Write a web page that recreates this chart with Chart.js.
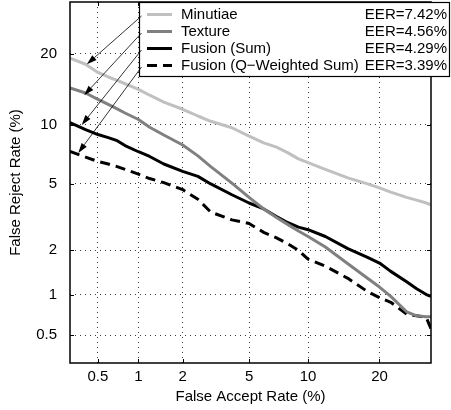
<!DOCTYPE html>
<html><head><meta charset="utf-8">
<script src="https://cdn.jsdelivr.net/npm/chart.js@4/dist/chart.umd.min.js"></script>
<style>html,body{margin:0;padding:0;background:#fff}canvas{display:block}</style>
</head><body>
<canvas id="c" width="451" height="410"></canvas>
<script>
// ---- data (percent) ----
const far       = [0.3,0.4,0.5,0.6,0.7,0.8,1,1.2,1.5,2,2.5,3,4,5,6,7,8,9,10,12,15,18,20,22,25,27,29,30];
const minutiae  = [19.2,18.2,16.9,16.2,15.7,15.2,14.4,13.6,12.7,11.8,11.0,10.4,9.7,8.85,8.2,7.8,7.3,6.8,6.5,6.0,5.4,5.0,4.75,4.5,4.2,4.05,3.9,3.8];
const texture   = [14.6,13.9,13.05,12.4,11.85,11.35,10.6,9.75,8.95,8.0,7.05,6.2,5.05,4.2,3.6,3.2,2.9,2.65,2.45,2.1,1.63,1.3,1.13,0.97,0.75,0.7,0.69,0.69];
const fusionSum = [10.25,9.5,9.0,8.7,8.4,7.95,7.4,7.0,6.4,5.85,5.5,5.0,4.35,3.9,3.6,3.25,2.98,2.8,2.7,2.45,2.05,1.8,1.65,1.45,1.23,1.1,1.0,0.97];
const fusionQ   = [7.42,6.95,6.6,6.4,6.2,6.0,5.65,5.35,5.08,4.65,4.1,3.45,3.1,2.95,2.6,2.4,2.2,2.0,1.75,1.57,1.3,1.05,0.95,0.88,0.72,0.7,0.68,0.56];
const tickValues = [0.5,1,2,5,10,20];
const tickLabels = ['0.5','1','2','5','10','20'];
const axisMin = 0.3, axisMax = 30;
const seriesNames = ['Minutiae','Texture','Fusion (Sum)','Fusion (Q\u2212Weighted Sum)'];
const eerLabels = ['EER=7.42%','EER=4.56%','EER=4.29%','EER=3.39%'];
const arrowTipFAR = [0.41,0.39,0.373,0.35];
const arrowTipFRR = [18.2,13.6,10.0,7.3];
const xTitle = 'False Accept Rate (%)';
const yTitle = 'False Reject Rate (%)';

// ---- normal deviate (probit) transform for DET axes ----
function probit(p){
 const a=[-3.969683028665376e+01,2.209460984245205e+02,-2.759285104469687e+02,1.383577518672690e+02,-3.066479806614716e+01,2.506628277459239e+00];
 const b=[-5.447609879822406e+01,1.615858368580409e+02,-1.556989798598866e+02,6.680131188771972e+01,-1.328068155288572e+01];
 const c=[-7.784894002430293e-03,-3.223964580411365e-01,-2.400758277161838e+00,-2.549732539343734e+00,4.374664141464968e+00,2.938163982698783e+00];
 const d=[7.784695709041462e-03,3.224671290700398e-01,2.445134137142996e+00,3.754408661907416e+00];
 const pl=0.02425, ph=1-pl; let q,r;
 if(p<pl){q=Math.sqrt(-2*Math.log(p));return (((((c[0]*q+c[1])*q+c[2])*q+c[3])*q+c[4])*q+c[5])/((((d[0]*q+d[1])*q+d[2])*q+d[3])*q+1);}
 if(p<=ph){q=p-0.5;r=q*q;return (((((a[0]*r+a[1])*r+a[2])*r+a[3])*r+a[4])*r+a[5])*q/(((((b[0]*r+b[1])*r+b[2])*r+b[3])*r+b[4])*r+1);}
 q=Math.sqrt(-2*Math.log(1-p));return -(((((c[0]*q+c[1])*q+c[2])*q+c[3])*q+c[4])*q+c[5])/((((d[0]*q+d[1])*q+d[2])*q+d[3])*q+1);
}
const nd = v => probit(v/100);
const FONT = "'Liberation Sans', Arial, Helvetica, sans-serif";
const FS = 15;

const seriesValues = [minutiae, texture, fusionSum, fusionQ];
const seriesColors = ['#c0c0c0','#808080','#000000','#000000'];
const seriesDash = [[],[],[],[10,6]];

const datasets = seriesValues.map((vals,i)=>({
  label: seriesNames[i],
  data: far.map((f,j)=>({x: nd(f), y: nd(vals[j])})),
  borderColor: seriesColors[i],
  borderWidth: 3,
  borderDash: seriesDash[i],
  borderJoinStyle: 'round',
  showLine: true,
  pointRadius: 0,
  tension: 0,
  fill: false
}));

function axisOpts(isX){
  return {
    type: 'linear',
    min: nd(axisMin), max: nd(axisMax),
    afterBuildTicks: s => { s.ticks = tickValues.map(v => ({value: nd(v)})); },
    ticks: {
      callback: (v,i) => tickLabels[i],
      font: {family: FONT, size: FS}, color: '#000',
      padding: isX ? 5 : 13, autoSkip: false, maxRotation: 0
    },
    grid: {color: '#3a3a3a', lineWidth: 1, drawTicks: false},
    border: {display: false, dash: [1,4]},
    title: {display: true, text: isX ? xTitle : yTitle, color: '#000',
            font: {family: FONT, size: FS},
            padding: isX ? {top:0, bottom:4} : {top:7, bottom:0}},
    afterFit: s => {
      if (isX) { s.height = 47; s.paddingLeft = 0; s.paddingRight = 0; }
      else { s.width = 70; s.paddingTop = 0; s.paddingBottom = 0; }
    }
  };
}

const overlay = {
  id: 'overlay',
  afterDatasetsDraw(chart){
    const {ctx, chartArea: a, scales: {x, y}} = chart;
    ctx.save();
    ctx.strokeStyle = '#000';
    ctx.lineWidth = 1;
    ctx.setLineDash([]);
    tickValues.forEach(v => {
      const px = Math.round(x.getPixelForValue(nd(v))) + 0.5;
      const py = Math.round(y.getPixelForValue(nd(v))) + 0.5;
      ctx.beginPath();
      ctx.moveTo(px, a.bottom); ctx.lineTo(px, a.bottom - 4);
      ctx.moveTo(px, a.top); ctx.lineTo(px, a.top + 4);
      ctx.moveTo(a.left, py); ctx.lineTo(a.left + 4, py);
      ctx.moveTo(a.right, py); ctx.lineTo(a.right - 4, py);
      ctx.stroke();
    });
    ctx.lineWidth = 1.5;
    ctx.strokeRect(a.left, a.top, a.right - a.left, a.bottom - a.top);
    ctx.restore();
  },
  afterDraw(chart){
    const {ctx, scales: {x, y}} = chart;
    ctx.save();
    // legend box
    const L = 139.5, T = 2.5, R = 449.5, B = 76.5;
    ctx.fillStyle = '#fff';
    ctx.fillRect(L, T, R - L, B - T);
    ctx.strokeStyle = '#000'; ctx.lineWidth = 1.2;
    ctx.strokeRect(L, T, R - L, B - T);
    const rowY = [14.5, 31.5, 48.5, 65.5];
    ctx.font = FS + 'px ' + FONT;
    ctx.textBaseline = 'middle';
    ctx.fillStyle = '#000';
    rowY.forEach((ry, i) => {
      ctx.beginPath();
      ctx.strokeStyle = seriesColors[i];
      ctx.lineWidth = 3;
      ctx.setLineDash(seriesDash[i]);
      ctx.moveTo(147, ry); ctx.lineTo(172, ry);
      ctx.stroke();
      ctx.setLineDash([]);
      ctx.textAlign = 'left';
      ctx.fillText(seriesNames[i], 181, ry + 0.5);
      ctx.textAlign = 'right';
      ctx.fillText(eerLabels[i], 447, ry + 0.5);
    });
    // arrows
    ctx.strokeStyle = '#000'; ctx.fillStyle = '#000'; ctx.lineWidth = 0.8;
    rowY.forEach((ry, i) => {
      const sx = 141.5, sy = ry + 1.5;
      const ex = x.getPixelForValue(nd(arrowTipFAR[i]));
      const ey = y.getPixelForValue(nd(arrowTipFRR[i]));
      const ang = Math.atan2(ey - sy, ex - sx);
      const hl = 10, hw = 3.2;
      const bx = ex - hl * Math.cos(ang), by = ey - hl * Math.sin(ang);
      ctx.beginPath(); ctx.moveTo(sx, sy); ctx.lineTo(bx, by); ctx.stroke();
      ctx.beginPath();
      ctx.moveTo(ex, ey);
      ctx.lineTo(bx + hw * Math.sin(ang), by - hw * Math.cos(ang));
      ctx.lineTo(bx - hw * Math.sin(ang), by + hw * Math.cos(ang));
      ctx.closePath(); ctx.fill();
    });
    ctx.restore();
  }
};

new Chart(document.getElementById('c'), {
  type: 'scatter',
  data: {datasets},
  options: {
    responsive: false,
    animation: false,
    layout: {padding: {left: 0, right: 20, top: 2, bottom: 0}},
    plugins: {legend: {display: false}, tooltip: {enabled: false}},
    scales: {x: axisOpts(true), y: axisOpts(false)}
  },
  plugins: [overlay]
});
</script>
</body></html>
